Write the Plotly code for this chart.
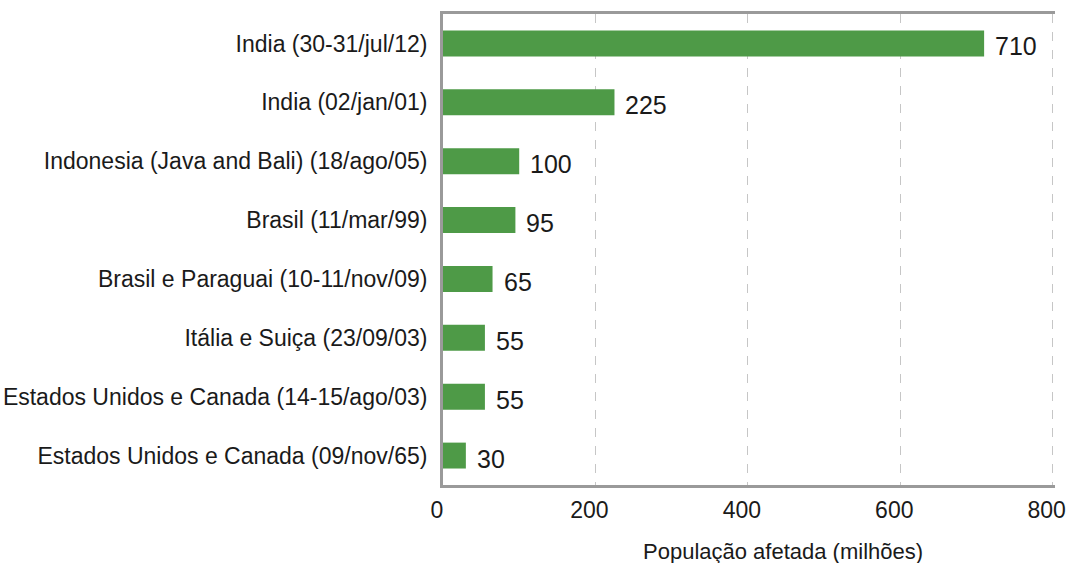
import plotly.graph_objects as go

eventos = [
    "India (30-31/jul/12)",
    "India (02/jan/01)",
    "Indonesia (Java and Bali) (18/ago/05)",
    "Brasil (11/mar/99)",
    "Brasil e Paraguai (10-11/nov/09)",
    "Itália e Suiça (23/09/03)",
    "Estados Unidos e Canada (14-15/ago/03)",
    "Estados Unidos e Canada (09/nov/65)",
]
populacao = [710, 225, 100, 95, 65, 55, 55, 30]
x_ticks = [0, 200, 400, 600, 800]

FONT = "Liberation Sans, Arial, sans-serif"
COR_BARRA = "#4e9a47"
COR_TEXTO = "#1a1a1a"

PLOT_L, PLOT_R, PLOT_T, PLOT_B = 443, 1055, 14, 485
X_MAX = 803

fig = go.Figure(
    go.Bar(
        x=populacao,
        y=eventos,
        orientation="h",
        marker=dict(color=COR_BARRA, line=dict(width=0)),
        width=0.44,
    )
)

# value labels just to the right of each bar, a little below centre
for ev, val in zip(eventos, populacao):
    fig.add_annotation(
        x=val, y=ev, text=str(val), showarrow=False,
        xanchor="left", yanchor="middle", xshift=9, yshift=-3,
        font=dict(family=FONT, size=25, color=COR_TEXTO),
    )

fig.add_annotation(
    xref="paper", yref="paper",
    x=(783 - PLOT_L) / (PLOT_R - PLOT_L), y=-(551 - PLOT_B) / (PLOT_B - PLOT_T),
    xanchor="center", yanchor="middle",
    text="População afetada (milhões)", showarrow=False,
    font=dict(family=FONT, size=22, color=COR_TEXTO),
)

fig.update_layout(
    width=1070, height=563,
    margin=dict(l=PLOT_L, r=1070 - PLOT_R, t=PLOT_T, b=563 - PLOT_B, autoexpand=False),
    plot_bgcolor="white", paper_bgcolor="white",
    showlegend=False,
    font=dict(family=FONT, color=COR_TEXTO),
)

fig.update_xaxes(
    range=[0, X_MAX], tickvals=x_ticks, ticktext=[str(t) for t in x_ticks],
    showgrid=True, gridcolor="#c6c6c6", griddash="dash", gridwidth=1,
    showline=True, linecolor="#9a9a9a", linewidth=3, mirror=True,
    zeroline=False, ticks="outside", ticklen=2, tickcolor="rgba(0,0,0,0)",
    ticklabelshift=-6, automargin=False,
    tickfont=dict(family=FONT, size=23, color=COR_TEXTO),
)
fig.update_yaxes(
    categoryorder="array", categoryarray=eventos[::-1],
    showline=True, linecolor="#9a9a9a", linewidth=3, mirror=False,
    showgrid=False, zeroline=False, automargin=False,
    ticks="outside", ticklen=8, tickcolor="rgba(0,0,0,0)",
    tickfont=dict(family=FONT, size=23, color=COR_TEXTO),
)

fig.write_html("out.html")
